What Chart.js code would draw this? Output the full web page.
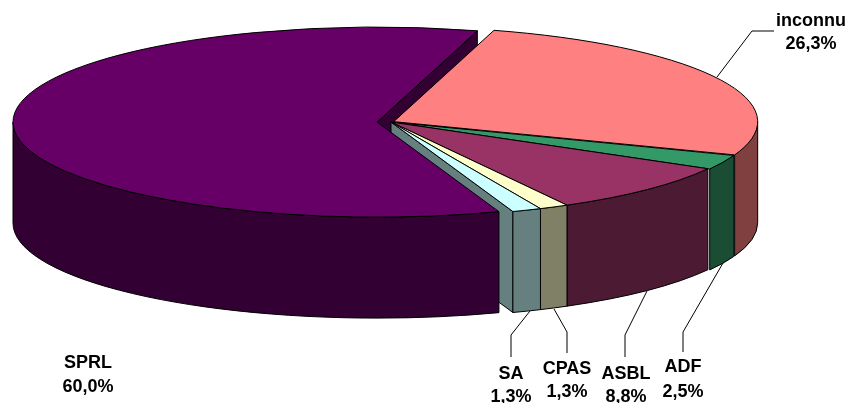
<!DOCTYPE html>
<html>
<head>
<meta charset="utf-8">
<style>
    html, body { margin: 0; padding: 0; background: #fff; }
    canvas { display: block; }
</style>
<script src="https://cdn.jsdelivr.net/npm/chart.js@4/dist/chart.umd.js"></script>
</head>
<body>
<canvas id="pie" width="846" height="403"></canvas>
<script>
const categories = ["inconnu", "ADF", "ASBL", "CPAS", "SA", "SPRL"];
const shares = [26.3, 2.5, 8.8, 1.3, 1.3, 60.0];

const topColors = ["#FF8080", "#339966", "#993366", "#FFFFCC", "#CCFFFF", "#660066"];
const wallColors = ["#804040", "#1A4D33", "#4D1A33", "#808066", "#668080", "#330033"];
// how far each slice is pulled out, in screen pixels along the long axis
const explode = [3, 2, 0, 0, 0, 14];

// look of the tilted pie
const centerX = 391, centerY = 122, radiusX = 364, radiusY = 95, depth = 101;
const baseRadius = 180;
const scaleX = radiusX / baseRadius, scaleY = radiusY / baseRadius;

// label text centre, two baselines, leader line points
const labelLayout = {
    inconnu: { x: 811, y1: 26, y2: 49, line: [[717, 77], [752, 31], [774, 31]] },
    ADF: { x: 683, y1: 372, y2: 397, line: [[723, 263], [683, 332], [683, 352]] },
    ASBL: { x: 626, y1: 379, y2: 402, line: [[647, 291], [625, 335], [625, 357]] },
    CPAS: { x: 567, y1: 374, y2: 397, line: [[554, 309], [567, 332], [567, 353]] },
    SA: { x: 511, y1: 379, y2: 402, line: [[530, 311], [511, 335], [511, 357]] },
    SPRL: { x: 88, y1: 368, y2: 392, line: null }
};

// apex of a slice on screen, after its explode offset
function apex(arc, i) {
    const mid = (arc.startAngle + arc.endAngle) / 2;
    return {
        x: centerX + Math.cos(mid) * explode[i],
        y: centerY + Math.sin(mid) * explode[i] * radiusY / radiusX
    };
}

function paint(ctx, fill) {
    ctx.fillStyle = fill;
    ctx.fill();
    ctx.strokeStyle = "#000";
    ctx.lineWidth = 1;
    ctx.stroke();
}

// outer wall, only the part that faces the viewer (0 to PI on the canvas)
function drawWall(ctx, arc, i) {
    const from = Math.max(arc.startAngle, 0);
    const to = Math.min(arc.endAngle, Math.PI);
    if (to <= from) return;
    const p = apex(arc, i);
    ctx.beginPath();
    ctx.ellipse(p.x, p.y, radiusX, radiusY, 0, from, to);
    ctx.ellipse(p.x, p.y + depth, radiusX, radiusY, 0, to, from, true);
    ctx.closePath();
    paint(ctx, wallColors[i]);
}

// flat cut face seen through the gap between exploded slices
function drawCut(ctx, arc, i) {
    const p = apex(arc, i);
    const rx = p.x + Math.cos(arc.endAngle) * radiusX;
    const ry = p.y + Math.sin(arc.endAngle) * radiusY;
    ctx.beginPath();
    ctx.moveTo(p.x, p.y);
    ctx.lineTo(rx, ry);
    ctx.lineTo(rx, ry + depth);
    ctx.lineTo(p.x, p.y + depth);
    ctx.closePath();
    paint(ctx, wallColors[i]);
}

const pie3d = {
    id: "pie3d",
    beforeDatasetDraw(chart) {
        const ctx = chart.ctx;
        const arcs = chart.getDatasetMeta(0).data;

        drawCut(ctx, arcs[5], 5);
        drawCut(ctx, arcs[4], 4);
        arcs.forEach((arc, i) => drawWall(ctx, arc, i));

        // the library's own arcs, squashed into an ellipse and moved out
        arcs.forEach((arc, i) => {
            const p = apex(arc, i);
            ctx.save();
            ctx.translate(p.x, p.y);
            ctx.scale(scaleX, scaleY);
            ctx.translate(-arc.x, -arc.y);
            arc.draw(ctx);
            ctx.restore();

            ctx.beginPath();
            ctx.moveTo(p.x, p.y);
            ctx.ellipse(p.x, p.y, radiusX, radiusY, 0, arc.startAngle, arc.endAngle);
            ctx.closePath();
            ctx.strokeStyle = "#000";
            ctx.lineWidth = 1;
            ctx.stroke();
        });
        return false;
    },
    afterDraw(chart) {
        const ctx = chart.ctx;
        ctx.font = "bold 18px 'Liberation Sans', Arial, sans-serif";
        ctx.textAlign = "center";
        ctx.textBaseline = "alphabetic";
        categories.forEach((name, i) => {
            const spot = labelLayout[name];
            if (spot.line) {
                ctx.beginPath();
                spot.line.forEach(([x, y], j) => {
                    if (j === 0) ctx.moveTo(x, y);
                    else ctx.lineTo(x, y);
                });
                ctx.strokeStyle = "#000";
                ctx.lineWidth = 1;
                ctx.stroke();
            }
            ctx.fillStyle = "#000";
            ctx.fillText(name, spot.x, spot.y1);
            ctx.fillText(shares[i].toFixed(1).replace(".", ",") + "%", spot.x, spot.y2);
        });
    }
};

new Chart(document.getElementById("pie"), {
    type: "pie",
    data: {
        labels: categories,
        datasets: [{
            data: shares,
            backgroundColor: topColors,
            borderWidth: 0,
            clip: false
        }]
    },
    options: {
        responsive: false,
        animation: false,
        rotation: 16,
        radius: baseRadius,
        plugins: {
            legend: { display: false },
            tooltip: { enabled: false }
        }
    },
    plugins: [pie3d]
});
</script>
</body>
</html>
